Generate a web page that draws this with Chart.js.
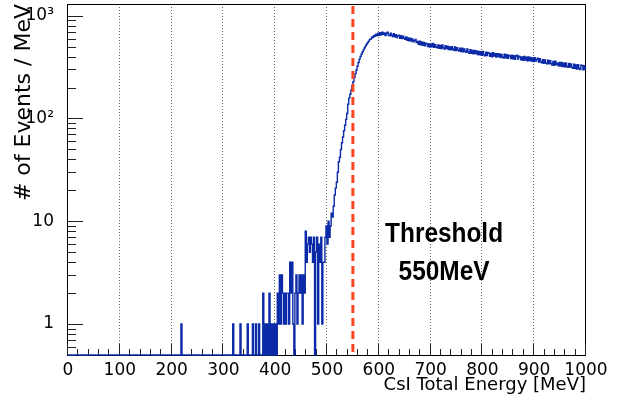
<!DOCTYPE html>
<html>
<head>
<meta charset="utf-8">
<script src="https://cdn.jsdelivr.net/npm/chart.js@4.4.1/dist/chart.umd.min.js"></script>
<style>
  html, body { margin: 0; padding: 0; background: #fff; }
</style>
</head>
<body>
<canvas id="spectrum" width="623" height="400"></canvas>
<script>
// histogram binning (MeV)
const binWidth = 2;
const xMin = 0, xMax = 1000;
const yMin = 0.5, yMax = 1300;

// isolated low energy entries below 400 MeV (bin left edge / count)
const lowEdges  = [218, 318, 332, 346, 356, 362, 368, 376, 380, 384, 388, 392, 396];
const lowCounts = [1,   1,   1,   1,   1,   1,   1,   2,   1,   1,   2,   1,   1];

// dense part of the spectrum, 2 MeV bins from 400 MeV on
const denseStart = 400;
const denseCounts = [
  1, 0, 2, 1, 3, 1, 3, 2, 1, 2,
  1, 2, 2, 1, 4, 2, 4, 1, 0, 2,
  3, 1, 2, 3, 2, 3, 1, 3, 2, 8,
  4, 6, 7, 5, 7, 6, 4, 7, 0, 5,
  7, 1, 6, 4, 7, 1, 4, 4, 7, 9,
  6, 10, 7, 9, 12, 11, 14, 18, 21, 24,
  30, 38, 42, 50, 58, 66, 76, 86, 98, 112,
  138, 158, 172, 190, 208, 228, 250, 272, 296, 322,
  350, 378, 402, 424, 446, 466, 488, 510, 530, 548,
  566, 590, 592, 620, 612, 644, 630, 662, 640, 676,
  645, 684, 652, 690, 660, 678, 640, 672, 690, 648,
  636, 676, 645, 628, 668, 622, 652, 612, 640, 648,
  602, 640, 598, 632, 604, 588, 620, 576, 606, 570,
  604, 566, 594, 556, 572, 588, 548, 562, 528, 566,
  522, 556, 516, 548, 510, 540, 534, 500, 532, 496,
  530, 498, 536, 492, 522, 496, 488, 520, 482, 514,
  478, 518, 486, 474, 512, 480, 506, 468, 498, 466,
  500, 472, 462, 496, 458, 488, 464, 452, 482, 448,
  484, 446, 476, 450, 440, 474, 442, 432, 466, 430,
  458, 426, 460, 428, 454, 420, 448, 416, 446, 412,
  448, 416, 408, 442, 410, 438, 430, 402, 432, 398,
  436, 404, 428, 396, 426, 400, 424, 392, 420, 396,
  388, 422, 390, 418, 386, 414, 406, 382, 414, 380,
  408, 376, 406, 412, 378, 404, 398, 372, 398, 368,
  402, 370, 394, 364, 398, 366, 392, 362, 388, 358,
  390, 362, 376, 386, 354, 382, 356, 348, 374, 344,
  372, 346, 340, 370, 340, 366, 342, 332, 358, 330,
  360, 334, 346, 326, 350, 324, 350, 320, 346, 318,
  348, 320, 314, 344, 316, 340, 314, 308, 338, 306,
  332, 302, 334, 306, 300, 330, 328, 298, 326, 302
];

const yTickValues = [1, 10, 100, 1000];
const yTickLabels = ['1', '10', '10²', '10³'];
const xTickStep = 100;

const thresholdEnergy = 550;
const thresholdLines = ['Threshold', '550MeV'];

// fill the full histogram
const nBins = (xMax - xMin) / binWidth;
const counts = new Array(nBins).fill(0);
lowEdges.forEach((e, i) => { counts[(e - xMin) / binWidth] = lowCounts[i]; });
denseCounts.forEach((c, i) => { counts[(denseStart - xMin) / binWidth + i] = c; });

// empty bins sit on the bottom of the log axis, like ROOT does
const points = counts.map((c, i) => ({ x: xMin + i * binWidth, y: c > 0 ? c : yMin }));
points.push({ x: xMax, y: points[points.length - 1].y });

const rootStyle = {
  id: 'rootStyle',
  beforeDatasetsDraw(chart) {
    const { ctx, chartArea: a, scales: { x, y } } = chart;
    ctx.save();

    // dotted vertical grid
    ctx.strokeStyle = '#666';
    ctx.lineWidth = 1;
    ctx.setLineDash([1, 2]);
    for (let v = xMin + xTickStep; v < xMax; v += xTickStep) {
      const px = Math.round(x.getPixelForValue(v)) - 0.5;
      ctx.beginPath();
      ctx.moveTo(px, a.top);
      ctx.lineTo(px, a.bottom);
      ctx.stroke();
    }
    ctx.setLineDash([]);

    // frame
    ctx.strokeStyle = '#000';
    ctx.strokeRect(a.left - 0.5, a.top + 0.5, a.right - a.left, a.bottom - a.top);

    // x ticks, pointing inwards
    ctx.strokeStyle = '#222';
    for (let v = xMin; v <= xMax; v += 20) {
      const px = Math.round(x.getPixelForValue(v)) - 0.5;
      const len = v % 100 === 0 ? 11 : 6;
      ctx.beginPath();
      ctx.moveTo(px, a.bottom);
      ctx.lineTo(px, a.bottom - len);
      ctx.stroke();
    }

    // y ticks, decades plus 2..9
    for (let d = -1; d <= 3; d++) {
      for (let k = 1; k <= 9; k++) {
        const v = k * Math.pow(10, d);
        if (v < yMin || v > yMax) continue;
        const py = Math.round(y.getPixelForValue(v)) + 0.5;
        const len = k === 1 ? 15 : 8;
        ctx.beginPath();
        ctx.moveTo(a.left, py);
        ctx.lineTo(a.left + len, py);
        ctx.stroke();
      }
    }
    ctx.restore();
  },
  afterDatasetsDraw(chart) {
    const { ctx, chartArea: a, scales: { x, y } } = chart;
    ctx.save();

    // threshold marker
    const tx = x.getPixelForValue(thresholdEnergy);
    ctx.strokeStyle = '#ff4422';
    ctx.lineWidth = 3;
    ctx.setLineDash([8, 5]);
    ctx.beginPath();
    ctx.moveTo(tx, a.top + 2);
    ctx.lineTo(tx, a.bottom);
    ctx.stroke();

    // annotation text, narrow bold like the original
    ctx.fillStyle = '#000';
    ctx.font = 'bold 28px "Liberation Sans Narrow", "Liberation Sans", sans-serif';
    ctx.textAlign = 'center';
    ctx.textBaseline = 'alphabetic';
    const sx = 118 / ctx.measureText(thresholdLines[0]).width;
    const cx = x.getPixelForValue(726);
    const baselines = [y.getPixelForValue(6.3), y.getPixelForValue(2.67)];
    thresholdLines.forEach((t, i) => {
      ctx.save();
      ctx.translate(cx, baselines[i]);
      ctx.scale(sx, 1);
      ctx.fillText(t, 0, 0);
      ctx.restore();
    });
    ctx.restore();
  }
};

new Chart(document.getElementById('spectrum').getContext('2d'), {
  type: 'line',
  data: {
    datasets: [{
      data: points,
      stepped: 'before',
      borderColor: '#0b2aa8',
      borderWidth: 1.4,
      pointRadius: 0,
      fill: false,
      clip: 2
    }]
  },
  options: {
    responsive: false,
    animation: false,
    devicePixelRatio: 1,
    layout: { padding: { left: 0, top: 4, right: 37, bottom: 0 } },
    plugins: {
      legend: { display: false },
      tooltip: { enabled: false }
    },
    scales: {
      x: {
        type: 'linear',
        min: xMin,
        max: xMax,
        afterFit: s => { s.height = 45; s.paddingLeft = 0; s.paddingRight = 0; },
        ticks: {
          stepSize: xTickStep,
          autoSkip: false,
          maxRotation: 0,
          padding: -3,
          color: '#000',
          font: { family: 'DejaVu Sans', size: 17 },
          callback: v => String(v)
        },
        grid: { display: false },
        border: { display: false },
        title: {
          display: true,
          text: 'CsI Total Energy [MeV]',
          align: 'end',
          color: '#000',
          font: { family: 'DejaVu Sans', size: 18 },
          padding: { top: 0, bottom: 4 }
        }
      },
      y: {
        type: 'logarithmic',
        min: yMin,
        max: yMax,
        afterBuildTicks: s => { s.ticks = yTickValues.map(v => ({ value: v })); },
        afterFit: s => { s.width = 68; s.paddingTop = 0; s.paddingBottom = 0; },
        ticks: {
          autoSkip: false,
          padding: 6,
          color: '#000',
          font: { family: 'DejaVu Sans', size: 17 },
          callback: v => {
            const i = yTickValues.indexOf(v);
            return i >= 0 ? yTickLabels[i] : '';
          }
        },
        grid: { display: false },
        border: { display: false },
        title: {
          display: true,
          text: '# of Events / MeV',
          align: 'end',
          color: '#000',
          font: { family: 'DejaVu Sans', size: 22 },
          padding: { top: 11, bottom: 0 }
        }
      }
    }
  },
  plugins: [rootStyle]
});
</script>
</body>
</html>
